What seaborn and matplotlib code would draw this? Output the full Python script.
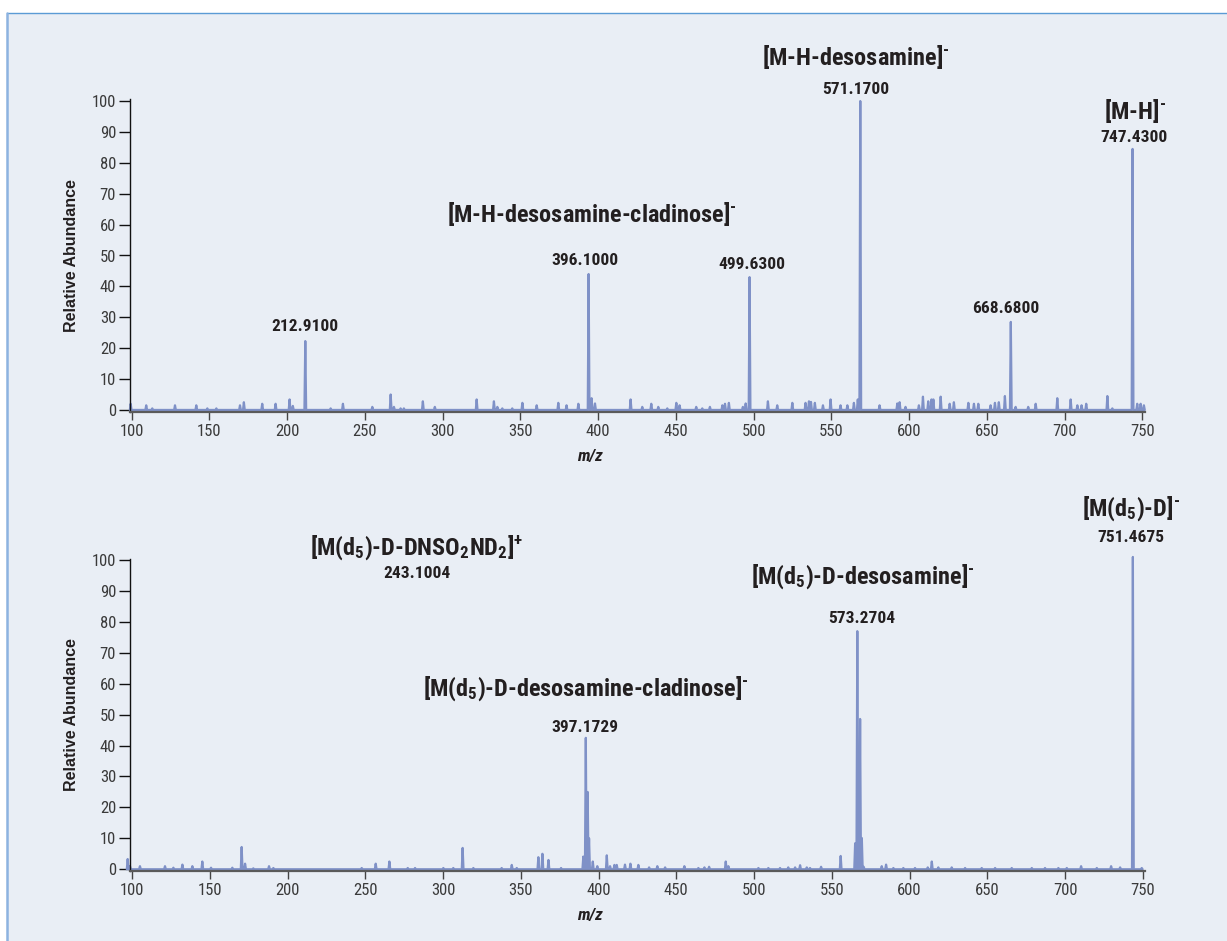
import matplotlib
matplotlib.use("Agg")
import matplotlib.pyplot as plt
from matplotlib.lines import Line2D
from matplotlib.patches import Rectangle
import numpy as np
import pandas as pd
import seaborn as sns

# ---------------- data (m/z, relative abundance) ----------------
top_mz = [99.4, 109.4, 113.3, 127.9, 141.6, 148.7, 154.5, 169.7, 172.2, 184.0,
          192.6, 201.6, 203.7, 211.7, 228.0, 235.9, 254.8, 266.6, 268.7, 273.0,
          275.1, 287.3, 295.0, 321.9, 333.0, 335.2, 338.4, 344.8, 351.3, 360.5,
          374.4, 379.7, 387.3, 393.9, 395.8, 398.0, 420.9, 428.4, 434.2, 438.7,
          444.5, 450.3, 452.4, 463.1, 467.0, 471.9, 479.9, 481.6, 484.1, 493.1,
          494.9, 497.4, 509.2, 515.2, 524.9, 533.4, 535.6, 536.9, 539.4, 544.6,
          549.5, 555.9, 560.3, 564.5, 567.0, 568.6, 581.0, 592.4, 593.9, 597.7,
          606.3, 608.9, 612.3, 614.4, 615.6, 620.3, 626.1, 628.8, 638.1, 641.7,
          644.5, 652.4, 655.2, 657.7, 661.6, 665.4, 668.5, 676.6, 681.4, 695.3,
          703.9, 708.2, 710.9, 713.9, 727.5, 730.7, 743.7, 746.7, 748.9, 751.0]
top_int = [2.0, 1.5, 0.5, 1.5, 1.5, 0.5, 0.5, 1.5, 2.5, 2.0,
           2.0, 3.4, 1.3, 22.3, 0.5, 2.0, 1.0, 5.0, 1.0, 0.5,
           0.5, 2.8, 1.0, 3.4, 2.8, 1.0, 0.5, 0.5, 2.3, 1.5,
           2.3, 1.5, 2.0, 44.0, 3.8, 2.1, 3.4, 1.0, 2.0, 1.0,
           0.5, 2.3, 1.5, 1.0, 0.5, 1.0, 1.5, 2.0, 2.3, 1.0,
           2.1, 43.0, 2.8, 1.5, 2.3, 2.3, 2.8, 2.6, 2.3, 1.5,
           3.4, 1.5, 1.5, 2.3, 3.4, 100.0, 1.5, 2.1, 2.5, 1.0,
           1.5, 4.3, 2.8, 3.4, 3.4, 4.3, 2.0, 2.5, 2.3, 2.0,
           2.0, 1.5, 2.3, 2.5, 4.5, 28.5, 1.0, 1.0, 2.0, 3.8,
           3.4, 1.5, 1.5, 2.0, 4.5, 0.5, 84.5, 2.0, 2.0, 1.5]

bot_mz = [97.2, 98.7, 105.1, 121.2, 126.6, 132.4, 138.8, 145.2, 150.8, 164.5,
          170.5, 172.7, 178.0, 188.1, 190.9, 247.7, 256.7, 265.5, 277.3, 282.0,
          300.2, 306.6, 312.6, 319.5, 337.7, 344.2, 347.4, 361.3, 363.9, 367.8,
          375.9, 390.2, 391.8, 393.0, 393.9, 396.3, 399.2, 405.3, 407.4, 410.2,
          411.7, 417.0, 420.5, 425.6, 432.5, 437.8, 442.8, 455.2, 464.2, 468.1,
          471.1, 481.8, 483.5, 502.8, 509.2, 516.7, 522.0, 526.4, 529.6, 533.9,
          536.0, 543.1, 555.7, 565.0, 566.4, 568.2, 569.3, 570.5, 582.1, 584.9,
          589.6, 596.0, 603.5, 611.7, 614.3, 618.5, 627.1, 635.7, 646.4, 655.0,
          665.7, 678.6, 687.1, 695.7, 701.1, 710.3, 720.4, 729.6, 735.4, 743.6,
          749.3]
bot_int = [3.3, 1.0, 1.0, 1.0, 0.5, 1.5, 1.0, 2.5, 0.5, 0.5,
           7.2, 1.8, 0.3, 1.0, 0.4, 0.4, 1.8, 2.5, 0.4, 0.4,
           0.4, 0.4, 6.9, 0.4, 0.4, 1.4, 0.4, 3.9, 5.0, 3.0,
           0.4, 4.1, 42.5, 25.0, 10.0, 2.5, 1.0, 4.5, 1.0, 1.4,
           1.4, 1.5, 1.8, 1.4, 0.6, 1.0, 0.6, 1.0, 0.4, 0.6,
           0.8, 2.5, 1.0, 0.4, 0.4, 0.4, 0.6, 0.6, 1.3, 0.6,
           0.4, 0.8, 4.3, 8.4, 77.0, 48.6, 10.1, 0.8, 1.0, 1.5,
           0.4, 0.4, 0.4, 0.6, 2.5, 0.6, 0.6, 0.4, 0.4, 0.4,
           0.4, 0.4, 0.4, 0.4, 0.4, 1.0, 0.4, 1.0, 0.6, 101.0,
           0.4]

x_ticks = [100, 150, 200, 250, 300, 350, 400, 450, 500, 550, 600, 650, 700, 750]
y_ticks = [0, 10, 20, 30, 40, 50, 60, 70, 80, 90, 100]

SUPM = "$^{\u2010}$"
top_labels = [
    ("212.9100", 211.5, 26.9),
    ("396.1000", 391.3, 48.3),
    ("499.6300", 499.0, 47.2),
    ("571.1700", 565.5, 103.7),
    ("668.6800", 662.3, 32.7),
    ("747.4300", 744.6, 88.2),
    ("[M-H-desosamine-cladinose]" + SUPM, 395.8, 63.4),
    ("[M-H-desosamine]" + SUPM, 565.6, 114.2),
    ("[M-H]" + SUPM, 745.2, 96.8),
]
bot_labels = [
    ("243.1004", 283.0, 95.8),
    ("397.1729", 391.3, 45.8),
    ("573.2704", 569.4, 81.0),
    ("751.4675", 742.4, 107.3),
    ("[M(d$_5$)-D-DNSO$_2$ND$_2$]$^{+}$", 283.3, 104.0),
    ("[M(d$_5$)-D-desosamine-cladinose]" + SUPM, 391.8, 58.5),
    ("[M(d$_5$)-D-desosamine]" + SUPM, 569.7, 94.7),
    ("[M(d$_5$)-D]" + SUPM, 742.2, 116.6),
]

# ---------------- style ----------------
sns.set_theme(style="white")
FAM = ["Roboto Condensed", "Liberation Sans Narrow", "Roboto", "DejaVu Sans"]
plt.rcParams["font.family"] = FAM
plt.rcParams["mathtext.default"] = "regular"

BG = "#E9EEF5"
LINE = "#7F91C7"
TXT = "#231F20"

W, H = 1227, 941
fig = plt.figure(figsize=(W / 100, H / 100), dpi=100)
fig.patch.set_facecolor("white")
fig.patches.append(Rectangle((7 / W, 0), 1 - 7 / W, 1 - 13 / H, transform=fig.transFigure,
                             facecolor=BG, edgecolor="none", zorder=-10))
fig.lines.append(Line2D([7 / W, 1], [1 - 13 / H, 1 - 13 / H], transform=fig.transFigure,
                        color="#5B9BD5", lw=1.0))
fig.lines.append(Line2D([7 / W, 7 / W], [0, 1 - 13 / H], transform=fig.transFigure,
                        color="#8DB3E0", lw=1.8))


def profile(mz, inten, hw=0.55):
    xs, ys = [], []
    order = np.argsort(mz)
    for i in order:
        m, h = mz[i], inten[i]
        xs += [m - hw, m, m + hw]
        ys += [0.0, h, 0.0]
    return pd.DataFrame({"mz": xs, "ab": ys})


def setup(ax, xlim):
    ax.set_facecolor("none")
    ax.set_xlim(*xlim)
    ax.set_ylim(-0.5, 100.5)
    for s in ("top", "right"):
        ax.spines[s].set_visible(False)
    ax.spines["left"].set_color("#111111")
    ax.spines["left"].set_linewidth(1.0)
    ax.spines["bottom"].set_color("#5a5a5a")
    ax.spines["bottom"].set_linewidth(1.6)
    ax.set_xticks(x_ticks)
    ax.set_yticks(y_ticks)
    ax.tick_params(axis="y", direction="out", length=8, width=1.0, color="#111111",
                   labelsize=12, labelcolor="#3a3a3a", pad=2, left=True)
    ax.tick_params(axis="x", direction="out", length=6, width=1.0, color="#444444",
                   labelsize=12, labelcolor="#3a3a3a", pad=3, bottom=True)
    ax.set_ylabel("Relative Abundance", fontsize=11.5, fontweight="bold",
                  family=["Liberation Sans", "DejaVu Sans"], color=TXT)
    ax.yaxis.set_label_coords(-0.050, 0.5)
    ax.set_xlabel("m/z", fontsize=12.5, fontweight="bold", style="italic", color=TXT)
    ax.xaxis.set_label_coords(0.453, -0.12)
    ax.grid(False)


def draw(ax, mz, inten, labels):
    df = profile(mz, inten)
    sns.lineplot(data=df, x="mz", y="ab", ax=ax, color=LINE, lw=1.6,
                 estimator=None, sort=False, clip_on=False)
    for txt, x, y in labels:
        big = txt.startswith("[")
        ax.text(x, y, txt, ha="center", va="center", fontsize=17.5 if big else 12.5,
                fontweight="bold", color=TXT, clip_on=False)


ax1 = fig.add_axes([130 / W, 1 - 411.5 / H, 1015 / W, 312 / H])
setup(ax1, (98.97, 751.7))
draw(ax1, top_mz, top_int, top_labels)
setup(ax1, (98.97, 751.7))

ax2 = fig.add_axes([130 / W, 1 - 870.8 / H, 1015 / W, 312.3 / H])
setup(ax2, (98.7, 751.4))
draw(ax2, bot_mz, bot_int, bot_labels)
setup(ax2, (98.7, 751.4))

fig.savefig("out.png", dpi=100, facecolor=fig.get_facecolor())
